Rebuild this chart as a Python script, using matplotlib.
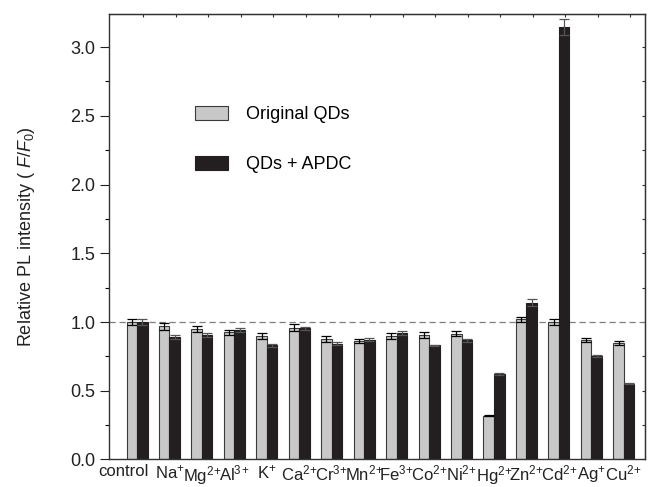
import numpy as np
import matplotlib
matplotlib.use("Agg")
import matplotlib.pyplot as plt
from matplotlib.transforms import ScaledTranslation

plt.rcParams["font.family"] = ["Liberation Sans", "DejaVu Sans"]
plt.rcParams["mathtext.fontset"] = "custom"
plt.rcParams["mathtext.rm"] = "Liberation Sans"
plt.rcParams["mathtext.it"] = "Liberation Sans:italic"

ions = ["control", r"Na$^{+}$", r"Mg$^{2}$$^{+}$", r"Al$^{3}$$^{+}$", r"K$^{+}$",
        r"Ca$^{2}$$^{+}$", r"Cr$^{3}$$^{+}$", r"Mn$^{2}$$^{+}$", r"Fe$^{3}$$^{+}$",
        r"Co$^{2}$$^{+}$", r"Ni$^{2}$$^{+}$", r"Hg$^{2}$$^{+}$", r"Zn$^{2}$$^{+}$",
        r"Cd$^{2}$$^{+}$", r"Ag$^{+}$", r"Cu$^{2}$$^{+}$"]
original = [1.00, 0.97, 0.95, 0.925, 0.90, 0.96, 0.876, 0.862, 0.90, 0.905, 0.915,
            0.318, 1.02, 1.00, 0.867, 0.847]
original_err = [0.02, 0.025, 0.02, 0.02, 0.02, 0.025, 0.02, 0.015, 0.02, 0.02, 0.02,
                0.005, 0.02, 0.02, 0.015, 0.015]
apdc = [1.00, 0.89, 0.903, 0.945, 0.83, 0.954, 0.843, 0.872, 0.92, 0.83, 0.867,
        0.621, 1.141, 3.145, 0.752, 0.551]
apdc_err = [0.02, 0.015, 0.015, 0.015, 0.01, 0.01, 0.01, 0.01, 0.015, 0.005, 0.01,
            0.005, 0.025, 0.06, 0.005, 0.005]

fig = plt.figure(figsize=(6.49, 4.87), dpi=100)
ax = fig.add_axes([0.168, 0.0565, 0.826, 0.9145])

x = np.arange(len(ions))
w = 0.324
ax.axhline(1.0, color="#7f7f7f", lw=0.9, ls=(0, (5, 3)), zorder=1)
ax.bar(x - w / 2, original, w, color="#c8c8c8", edgecolor="#3a3a3a", lw=0.8,
       label="Original QDs", zorder=2)
ax.bar(x + w / 2, apdc, w, color="#231f20", edgecolor="#231f20", lw=0.8,
       label="QDs + APDC", zorder=2)
ax.errorbar(x - w / 2, original, yerr=original_err, fmt="none", ecolor="black",
            elinewidth=0.9, capsize=3.5, capthick=0.9, zorder=3)
ax.errorbar(x + w / 2, apdc, yerr=apdc_err, fmt="none", ecolor="#555555",
            elinewidth=0.9, capsize=3.5, capthick=0.9, zorder=3)

ax.set_xlim(-0.863, 15.657)
ax.set_ylim(0, 3.24)
ax.set_yticks(np.arange(0, 3.01, 0.5))
ax.set_yticks(np.arange(0.25, 3.24, 0.5), minor=True)
ax.yaxis.set_major_formatter(matplotlib.ticker.FormatStrFormatter("%.1f"))
ax.set_xticks(x)
ax.set_xticklabels(ions)
ax.tick_params(axis="x", length=0, pad=3, labelsize=12, colors="#222222")
ax.tick_params(axis="y", which="major", direction="out", length=6.3, width=0.8,
               labelsize=13, colors="#222222")
ax.tick_params(axis="y", which="minor", direction="out", length=3.2, width=0.8)
ax.get_xticklabels()[0].set_transform(
    ax.get_xticklabels()[0].get_transform()
    + ScaledTranslation(-0.14, 0, fig.dpi_scale_trans))

for s in ax.spines.values():
    s.set_color("#333333")
    s.set_linewidth(1.0)

top = ax.secondary_xaxis("top")
top.set_xticks(x + 0.194)
top.set_xticklabels([])
top.tick_params(direction="in", length=2.5, width=0.8, colors="#333333")
right = ax.secondary_yaxis("right")
right.set_yticks(np.arange(0, 3.24, 0.25))
right.set_yticklabels([])
right.tick_params(direction="in", length=2.5, width=0.8, colors="#333333")

ax.set_ylabel(r"Relative PL intensity ( $F$/$F_0$)", fontsize=13, color="#222222",
              labelpad=24)

ax.legend(loc="upper left", bbox_to_anchor=(0.13, 0.83), frameon=False, fontsize=13,
          handlelength=1.85, handleheight=0.8, handletextpad=0.95, labelspacing=1.83)

fig.savefig("out.png", dpi=100)
